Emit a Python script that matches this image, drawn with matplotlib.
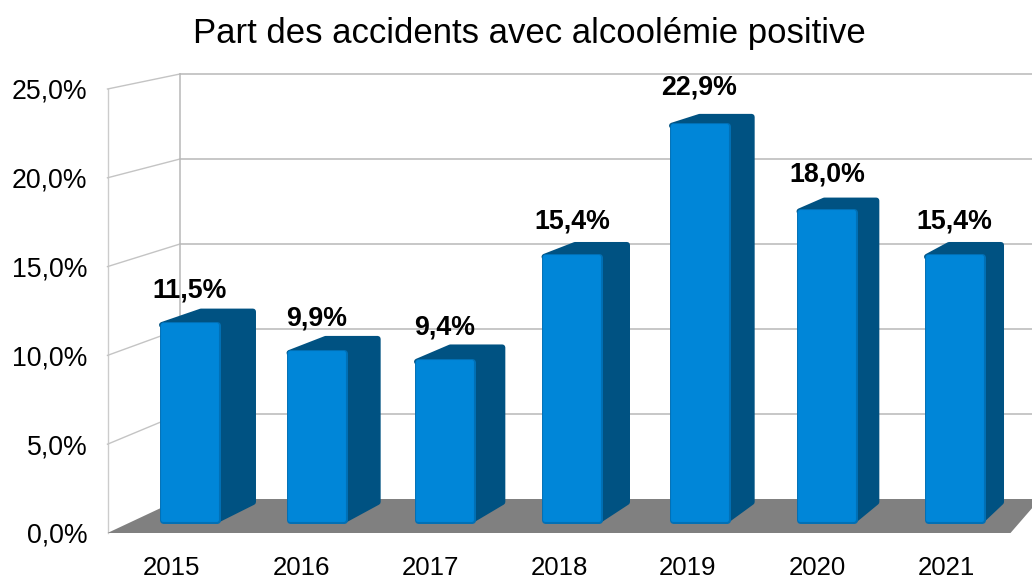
import matplotlib
matplotlib.use("Agg")
import matplotlib.pyplot as plt
from matplotlib.patches import Polygon

plt.rcParams['font.family'] = ['Liberation Sans', 'DejaVu Sans']

years = ['2015', '2016', '2017', '2018', '2019', '2020', '2021']
shares = [11.5, 9.9, 9.4, 15.4, 22.9, 18.0, 15.4]
y_ticks = [0, 5, 10, 15, 20, 25]
y_labels = ['0,0%', '5,0%', '10,0%', '15,0%', '20,0%', '25,0%']
title = 'Part des accidents avec alcoolémie positive'

W, H = 1032, 579
fig = plt.figure(figsize=(W / 100, H / 100), dpi=100, facecolor='white')

# Front edge of the chart box, in pixels
L, B, T = 107.5, 533.0, 89.0
PITCH = 129.0
UNIT = (B - T) / 25.0
ax = fig.add_axes([L / W, (H - B) / H, (W - L) / W, (B - T) / H])
ax.set_xlim(-0.5, (W - L) / PITCH - 0.5)
ax.set_ylim(0, 25)
for s in ax.spines.values():
    s.set_visible(False)
ax.set_facecolor('none')


def dx(px):
    return (px - L) / PITCH - 0.5


def dy(px):
    return (B - px) / UNIT


# Back wall of the box, in data coordinates
back_left, back_right = dx(180), dx(1040)
back_y0 = dy(499)
back_scale = 17.0 / UNIT
front_right = dx(L + PITCH * len(years))

grid_c = '#b8b8b8'
# floor
ax.add_patch(Polygon([(-0.5, 0), (front_right, 0), (back_right, back_y0), (back_left, back_y0)],
                     closed=True, fc='#808080', ec='none', zorder=1, clip_on=False))
# left wall and grid lines
ax.plot([-0.5, -0.5], [0, 25], color='#cccccc', lw=1.0, zorder=0.5, clip_on=False)
ax.plot([back_left, back_left], [back_y0, back_y0 + 25 * back_scale], color=grid_c, lw=1.1, zorder=0.5, clip_on=False)
for t in y_ticks[1:]:
    yb = back_y0 + t * back_scale
    ax.plot([-0.5, back_left], [t, yb], color='#c4c4c4', lw=1.0, zorder=0.5, clip_on=False)
    ax.plot([back_left, back_right], [yb, yb], color=grid_c, lw=1.1, zorder=0.5, clip_on=False)

# Bar planes: front face and back face, in data coordinates
f_c0, f_p, f_hw, f_y0, f_s = dx(189.5), 127.5 / PITCH, 30.5 / PITCH, dy(523), 17.48 / UNIT
b_c0, b_p, b_hw, b_y0, b_s = dx(227.0), 124.67 / PITCH, 29.0 / PITCH, dy(505), 17.08 / UNIT
# insets that let a thick round-joined edge produce rounded corners
ix, iy = 3.5 / PITCH, 3.5 / UNIT
sx, sy = 3.0 / PITCH, 3.0 / UNIT
label_lift = dy(494.6)

for i, v in enumerate(shares):
    fc = f_c0 + f_p * i
    bc = b_c0 + b_p * i
    ftop = f_y0 + v * f_s
    btop = b_y0 + v * b_s
    depth = [(fc - f_hw + sx, ftop - sy), (bc - b_hw + sx, btop - sy), (bc + b_hw - sx, btop - sy),
             (bc + b_hw - sx, b_y0 + sy), (fc + f_hw - sx, f_y0 + sy), (fc + f_hw - sx, ftop - sy)]
    front = [(fc - f_hw + ix, f_y0 + iy), (fc + f_hw - ix, f_y0 + iy),
             (fc + f_hw - ix, ftop - iy), (fc - f_hw + ix, ftop - iy)]
    ax.add_patch(Polygon(depth, closed=True, fc='#005282', ec='#005282', lw=4.3,
                         joinstyle='round', zorder=3 + i * 0.1))
    ax.add_patch(Polygon(front, closed=True, fc='#0070b6', ec='#0070b6', lw=5.0,
                         joinstyle='round', zorder=3.05 + i * 0.1))
    ax.add_patch(Polygon(front, closed=True, fc='#0086d8', ec='#0086d8', lw=2.8,
                         joinstyle='round', zorder=3.06 + i * 0.1))
    ax.annotate(f'{v:.1f}%'.replace('.', ','), (fc, v + label_lift), xytext=(0, 0),
                textcoords='offset points', ha='center', va='center',
                fontsize=19.3, fontweight='bold', color='black', zorder=6, annotation_clip=False)

ax.set_xticks(range(len(years)), years)
ax.set_yticks(y_ticks, y_labels)
ax.tick_params(axis='x', length=0, pad=16.8, labelsize=18.6, colors='black')
ax.tick_params(axis='y', length=0, pad=14.5, labelsize=19.2, colors='black')

fig.text(529 / W, 1 - 33.5 / H, title, ha='center', va='center', fontsize=25, color='black')

fig.savefig('out.png', dpi=100, facecolor='white')
